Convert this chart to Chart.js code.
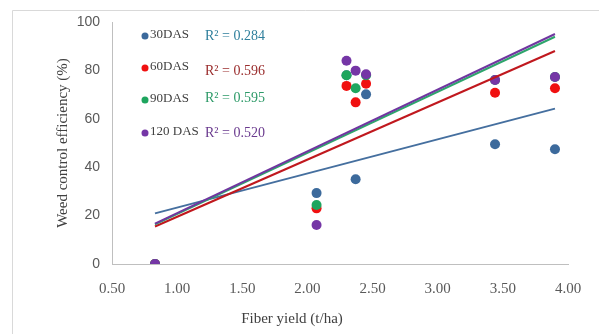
<!DOCTYPE html>
<html><head><meta charset="utf-8">
<script src="https://cdn.jsdelivr.net/npm/chart.js@4"></script>
<style>html,body{margin:0;padding:0;background:#fff;}#wrap{width:599px;height:334px;position:relative;}</style>
</head><body><div id="wrap"><canvas id="c" width="599" height="334"></canvas></div>
<script>
const fiberYield = [0.83, 2.07, 2.30, 2.37, 2.45, 3.44, 3.90];
const wce30 = [0, 29.3, 78, 35, 70.1, 49.5, 47.4];
const wce60 = [0, 23, 73.6, 66.8, 74.5, 70.8, 72.6];
const wce90 = [0, 24.4, 78, 72.6, 78, 76, 77.3];
const wce120 = [0, 16.1, 84, 79.9, 78.4, 76, 77.3];
const seriesNames = ['30DAS', '60DAS', '90DAS', '120 DAS'];
const r2Labels = ['R² = 0.284', 'R² = 0.596', 'R² = 0.595', 'R² = 0.520'];
const xTitle = 'Fiber yield (t/ha)';
const yTitle = 'Weed control efficiency (%)';

const pointColors = ['#3c6a9c', '#f01010', '#1ea55e', '#7536a6'];
const lineColors = ['#456f9f', '#c0181e', '#2ea56c', '#7036a0'];
const r2Colors = ['#2f7f9c', '#9a2d2d', '#2d9a68', '#6a3a8e'];
const allSeries = [wce30, wce60, wce90, wce120];

function fit(xs, ys) {
  const n = xs.length;
  const mx = xs.reduce((a, b) => a + b, 0) / n;
  const my = ys.reduce((a, b) => a + b, 0) / n;
  let sxy = 0, sxx = 0;
  for (let i = 0; i < n; i++) { sxy += (xs[i] - mx) * (ys[i] - my); sxx += (xs[i] - mx) ** 2; }
  const b = sxy / sxx, a = my - b * mx;
  const x0 = Math.min(...xs), x1 = Math.max(...xs);
  return [{x: x0, y: a + b * x0}, {x: x1, y: a + b * x1}];
}

const datasets = [];
allSeries.forEach((ys, i) => {
  datasets.push({
    type: 'scatter', label: seriesNames[i],
    data: fiberYield.map((x, j) => ({x, y: ys[j]})),
    backgroundColor: pointColors[i], borderColor: pointColors[i],
    pointRadius: 5, pointHoverRadius: 5, borderWidth: 0, order: 8 - i
  });
});
allSeries.forEach((ys, i) => {
  datasets.push({
    type: 'line', label: seriesNames[i] + ' trend',
    data: fit(fiberYield, ys),
    borderColor: lineColors[i], borderWidth: 2, pointRadius: 0, fill: false,
    order: 4 - i
  });
});

const extras = {
  id: 'extras',
  beforeDraw(chart) {
    const ctx = chart.ctx;
    ctx.save();
    ctx.fillStyle = '#fff';
    ctx.fillRect(0, 0, chart.width, chart.height);
    ctx.strokeStyle = '#d9d9d9';
    ctx.lineWidth = 1;
    ctx.beginPath();
    ctx.moveTo(12.5, 334); ctx.lineTo(12.5, 10.5); ctx.lineTo(599, 10.5);
    ctx.stroke();
    ctx.restore();
  },
  afterDraw(chart) {
    const ctx = chart.ctx;
    ctx.save();
    const rowsY = [35, 67, 99, 132];
    const r2Y = [36, 71, 98, 133];
    ctx.textBaseline = 'middle';
    seriesNames.forEach((n, i) => {
      ctx.fillStyle = pointColors[i];
      ctx.beginPath(); ctx.arc(145, rowsY[i] + 1, 3.5, 0, Math.PI * 2); ctx.fill();
      ctx.fillStyle = '#404040';
      ctx.font = '13px "Liberation Serif"';
      ctx.textAlign = 'left';
      ctx.fillText(n, 150, rowsY[i]);
      ctx.fillStyle = r2Colors[i];
      ctx.font = '14px "Liberation Serif"';
      ctx.fillText(r2Labels[i], 205, r2Y[i]);
    });
    ctx.fillStyle = '#404040';
    ctx.font = '15px "Liberation Serif"';
    ctx.textAlign = 'center';
    ctx.fillText(xTitle, 292, 319);
    ctx.restore();
  }
};

new Chart(document.getElementById('c'), {
  data: {datasets},
  options: {
    responsive: false, animation: false,
    layout: {padding: {top: 22, right: 31, left: 0, bottom: 0}},
    plugins: {legend: {display: false}, tooltip: {enabled: false}},
    scales: {
      x: {
        type: 'linear', min: 0.5, max: 4.0,
        afterFit(s) { s.height = 70; },
        ticks: {stepSize: 0.5, padding: 16, color: '#595959', font: {family: '"Liberation Serif"', size: 15},
          callback: v => v.toFixed(2)},
        grid: {display: false, drawTicks: false},
        border: {color: '#bfbfbf', width: 1}
      },
      y: {
        min: 0, max: 100,
        afterFit(s) { s.width = 112; },
        ticks: {stepSize: 20, padding: 12, color: '#595959', font: {family: '"Liberation Sans"', size: 14}},
        grid: {display: false, drawTicks: false},
        border: {color: '#bfbfbf', width: 1},
        title: {display: true, text: yTitle, color: '#404040', padding: {top: 54, bottom: 0},
          font: {family: '"Liberation Serif"', size: 15}}
      }
    }
  },
  plugins: [extras]
});
</script></body></html>
